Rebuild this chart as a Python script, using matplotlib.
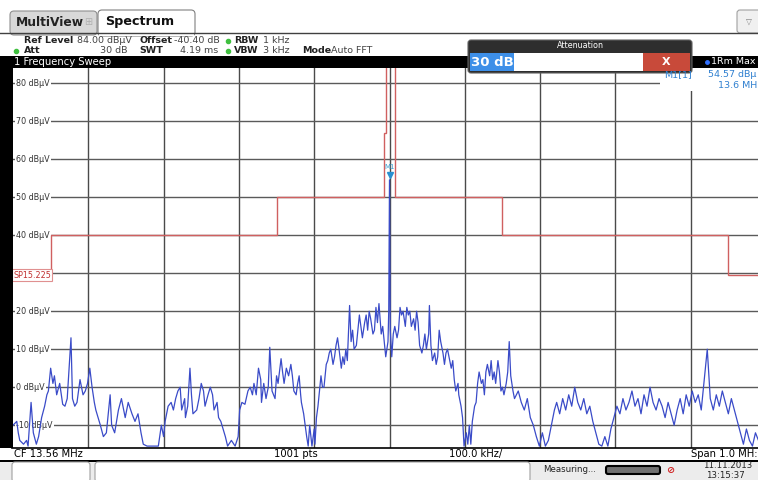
import matplotlib
matplotlib.use('Agg')
import matplotlib.pyplot as plt
from matplotlib.patches import Rectangle, FancyBboxPatch
import numpy as np

# Spektrum-Screenshot: CF 13.56 MHz, Span 1 MHz, Ref 84 dBuV

f_start = 13.06   # MHz
f_stop = 14.06
ref_level = 84.0
y_bottom = -16.0

# trace (MHz, dBuV)
trace_mhz = [
    13.060, 13.065, 13.067, 13.069, 13.074, 13.078, 13.080, 13.084, 13.087, 13.091,
    13.094, 13.098, 13.102, 13.105, 13.107, 13.110, 13.113, 13.115, 13.118, 13.122,
    13.126, 13.129, 13.132, 13.137, 13.139, 13.142, 13.145, 13.149, 13.153, 13.156,
    13.159, 13.162, 13.165, 13.168, 13.170, 13.173, 13.176, 13.180, 13.184, 13.189,
    13.191, 13.195, 13.200, 13.204, 13.209, 13.213, 13.218, 13.222, 13.226, 13.230,
    13.233, 13.238, 13.244, 13.253, 13.257, 13.260, 13.262, 13.266, 13.270, 13.273,
    13.276, 13.279, 13.282, 13.284, 13.288, 13.289, 13.292, 13.295, 13.297, 13.299,
    13.304, 13.307, 13.310, 13.313, 13.315, 13.319, 13.322, 13.325, 13.327, 13.331,
    13.333, 13.336, 13.339, 13.342, 13.345, 13.350, 13.355, 13.359, 13.361, 13.364,
    13.368, 13.372, 13.375, 13.378, 13.380, 13.383, 13.386, 13.389, 13.390, 13.393,
    13.396, 13.399, 13.401, 13.404, 13.406, 13.408, 13.410, 13.412, 13.416, 13.418,
    13.420, 13.423, 13.426, 13.429, 13.431, 13.433, 13.436, 13.438, 13.440, 13.442,
    13.443, 13.446, 13.448, 13.450, 13.452, 13.454, 13.457, 13.460, 13.461, 13.463,
    13.465, 13.467, 13.469, 13.471, 13.473, 13.476, 13.478, 13.480, 13.482, 13.485,
    13.487, 13.489, 13.491, 13.493, 13.496, 13.498, 13.500, 13.502, 13.504, 13.507,
    13.509, 13.511, 13.513, 13.516, 13.518, 13.520, 13.522, 13.524, 13.527, 13.529,
    13.531, 13.533, 13.535, 13.538, 13.540, 13.542, 13.544, 13.546, 13.549, 13.551,
    13.553, 13.555, 13.558, 13.559, 13.560, 13.561, 13.563, 13.565, 13.567, 13.570,
    13.572, 13.574, 13.576, 13.578, 13.581, 13.583, 13.585, 13.587, 13.589, 13.592,
    13.594, 13.596, 13.598, 13.600, 13.603, 13.605, 13.607, 13.609, 13.612, 13.613,
    13.615, 13.617, 13.620, 13.622, 13.624, 13.626, 13.628, 13.631, 13.633, 13.635,
    13.637, 13.639, 13.642, 13.644, 13.646, 13.648, 13.651, 13.652, 13.655, 13.657,
    13.659, 13.662, 13.664, 13.666, 13.668, 13.670, 13.673, 13.675, 13.677, 13.679,
    13.682, 13.684, 13.686, 13.688, 13.690, 13.693, 13.695, 13.697, 13.699, 13.701,
    13.704, 13.706, 13.708, 13.710, 13.712, 13.715, 13.717, 13.719, 13.721, 13.724,
    13.726, 13.731, 13.735, 13.739, 13.743, 13.747, 13.751, 13.755, 13.759, 13.763,
    13.767, 13.771, 13.775, 13.779, 13.782, 13.786, 13.790, 13.794, 13.798, 13.802,
    13.806, 13.810, 13.814, 13.818, 13.822, 13.826, 13.830, 13.834, 13.838, 13.842,
    13.846, 13.850, 13.854, 13.858, 13.862, 13.866, 13.870, 13.874, 13.878, 13.882,
    13.886, 13.890, 13.894, 13.898, 13.902, 13.906, 13.910, 13.914, 13.918, 13.922,
    13.926, 13.930, 13.934, 13.938, 13.942, 13.946, 13.950, 13.954, 13.958, 13.962,
    13.966, 13.970, 13.974, 13.978, 13.982, 13.986, 13.990, 13.994, 13.998, 14.002,
    14.006, 14.010, 14.014, 14.018, 14.022, 14.026, 14.030, 14.034, 14.038, 14.042,
    14.046, 14.050, 14.060,
]
trace_dbuv = [
    -10, -9, -12, -14, -15, -14, -15.5, -4, -12, -15,
    -13, -8, -5, -2, -1, 5, 1, 3, -2, 1,
    -4.5, -5, -3, 13, -3, -5, -4, 2, -2, -1,
    1, 5, 0, -4, -6, -8, -10, -13, -12, -2,
    -10, -12, -6, -3, -8, -4, -7, -9, -7, -12,
    -15, -15.5, -15.5, -15.5, -10, -13, -9, -5, -4, -6,
    -3, -1, 0, -6, -3, -8, -5, 5, -2, -7,
    -6, -3, 1, -1, -5, -2, 0, -2, -6, -4,
    -8, -9, -11, -13, -15.5, -14, -15.5, -13, -6, -4,
    -4.5, -1, 0, -2, 1, -2, 5, 2, -4, 1,
    -3, 0, 10.5, -1, -2, -3, 3, 1, 7.5, 4,
    1, 5, 3, 6, 3, -1, -2, 1, 3, -2,
    -4, -7, -10, -13, -15.5, -10, -15.5, -11, -15, -8,
    -5, -1, 3, 0, 0, 6, 7, 9, 10, 6,
    8, 11, 13, 10, 5, 8, 6, 10, 7, 21.5,
    12, 15, 10, 11, 15, 19, 16, 13, 17, 19,
    15, 20, 18, 14, 15, 21, 17, 22, 14, 16,
    12, 8, 12, 20, 54.57, 15, 8, 14, 16, 13,
    15, 21, 19, 20, 16, 21, 19, 20, 16, 18,
    15, 20, 17, 11, 9, 11, 14, 10, 14, 21.5,
    11, 7, 9, 6, 8, 15, 12, 9, 6, 9,
    10, 8, 5, 7, 2, -1, 1, -2, -5, -8,
    -15.5, -12, -15, -10, -15, -9, -5, -4, 1, 4,
    1, 2, -2, 4, 6, 3, 7, 2, 4, 1,
    7, 4, -1, 0, -2, 1, 4, 12, 3, -1,
    -3, -1, -4, -6, -3, -8, -10, -13, -15.5, -12,
    -15.5, -14, -10, -6, -4, -7, -3, -6, -2, -5,
    0, -4, -6, -3, -7, -5, -9, -12, -15, -15.5,
    -13, -15.5, -11, -8, -5, -7, -3, -6, -4, -1,
    -5, -3, -7, -2, -5, 0, -4, -6, -3, -5,
    -8, -4, -7, -10, -6, -3, -7, -2, -5, -1,
    -4, -2, -6, 2, 10, -3, -6, -2, -5, -1,
    -4, -7, -3, -6, -9, -12, -15, -11, -14, -15.5,
    -12, -14, -12,
]

# Grenzwertlinie SP15.225
limit_edges = [13.06, 13.11, 13.41, 13.553, 13.555, 13.567, 13.71, 14.01, 14.06]
limit_dbuv = [29.5, 40, 50, 67, 95, 50, 40, 29.5]

level_ticks = [80, 70, 60, 50, 40, 30, 20, 10, 0, -10]
level_labels = ['80 dBµV', '70 dBµV', '60 dBµV', '50 dBµV', '40 dBµV',
                '30 dBµV', '20 dBµV', '10 dBµV', '0 dBµV', '-10 dBµV']
freq_ticks = [13.16, 13.26, 13.36, 13.46, 13.56, 13.66, 13.76, 13.86, 13.96]

marker_mhz = 13.560
marker_dbuv = 54.57

W, H = 758, 480
fig = plt.figure(figsize=(W / 100., H / 100.), dpi=100)
fig.patch.set_facecolor('white')

# Diagramm: x 13..766 px, y 68..448 px
ax = fig.add_axes([13. / W, (H - 448.) / H, 753. / W, 380. / H])
ax.set_xlim(f_start, f_stop)
ax.set_ylim(y_bottom, ref_level)
for s in ax.spines.values():
    s.set_visible(False)
ax.set_xticks([])
ax.set_yticks([])

for f in freq_ticks:
    ax.axvline(f, color='#4a4a4a', lw=1.0, zorder=1)
for lv in level_ticks:
    ax.axhline(lv, color='#5a5a5a', lw=1.0, zorder=1)

for lv, lab in zip(level_ticks, level_labels):
    ax.text(0.004, lv, lab, transform=ax.get_yaxis_transform(), fontsize=5.8,
            color='#333333', va='center', ha='left', zorder=2,
            bbox=dict(fc='white', ec='none', pad=1.0))

ax.stairs(limit_dbuv, limit_edges, baseline=None, color='#d06060', lw=1.0, zorder=3)
ax.text(0.0, 29.5, 'SP15.225', transform=ax.get_yaxis_transform(), fontsize=5.8,
        color='#c03030', va='center', ha='left', zorder=5,
        bbox=dict(fc='white', ec='#e09090', pad=0.8, lw=0.8))

ax.plot(trace_mhz, trace_dbuv, color='#3a4bc8', lw=0.9, zorder=4, clip_on=True)

ax.plot([marker_mhz], [marker_dbuv + 1.2], marker='v', ms=4, color='#2a8fd0', zorder=6)
ax.text(marker_mhz, marker_dbuv + 2.6, 'M1', fontsize=5, color='#40a0d0',
        ha='center', va='bottom', zorder=6)

# Rahmen / Kopf / Fuss in Pixelkoordinaten
ov = fig.add_axes([0, 0, 1, 1], zorder=10)
ov.set_xlim(0, W)
ov.set_ylim(H, 0)
ov.axis('off')

# Kopfbereich
ov.add_patch(Rectangle((0, 0), W, 56, fc='white', ec='none'))
ov.plot([0, W], [33, 33], color='#404040', lw=1.0)
ov.add_patch(FancyBboxPatch((10, 11), 87, 24, boxstyle='round,pad=0,rounding_size=4',
                            fc='#d8d8d8', ec='#909090', lw=0.8))
ov.text(16, 22.5, 'MultiView', fontsize=8.8, fontweight='bold', color='#222222', va='center')
ov.text(88, 22, '⊞', fontsize=7, color='#b0b0b0', va='center', ha='center')
ov.add_patch(FancyBboxPatch((98, 10), 97, 26, boxstyle='round,pad=0,rounding_size=4',
                            fc='white', ec='#808080', lw=0.8))
ov.add_patch(Rectangle((98.6, 31), 95.8, 5, fc='white', ec='none'))
ov.text(105, 21.5, 'Spectrum', fontsize=9.2, fontweight='bold', color='#111111', va='center')
ov.add_patch(FancyBboxPatch((737, 10), 30, 23, boxstyle='round,pad=0,rounding_size=3',
                            fc='#f0f0f0', ec='#a0a0a0', lw=0.8))
ov.text(749, 21, '▽', fontsize=5.5, color='#808080', va='center', ha='center')

r1, r2 = 40.5, 50.5
ov.text(24, r1, 'Ref Level', fontsize=6.8, fontweight='bold', color='#222222', va='center')
ov.text(77, r1, '84.00 dBµV', fontsize=6.8, color='#444444', va='center')
ov.text(139, r1, 'Offset', fontsize=6.8, fontweight='bold', color='#222222', va='center')
ov.text(174, r1, '-40.40 dB', fontsize=6.8, color='#444444', va='center')
ov.plot([228], [r1], 'o', ms=3, color='#40c040')
ov.text(234, r1, 'RBW', fontsize=6.8, fontweight='bold', color='#222222', va='center')
ov.text(263, r1, '1 kHz', fontsize=6.8, color='#444444', va='center')
ov.plot([16], [r2], 'o', ms=3, color='#40c040')
ov.text(24, r2, 'Att', fontsize=6.8, fontweight='bold', color='#222222', va='center')
ov.text(127, r2, '30 dB', fontsize=6.8, color='#444444', va='center', ha='right')
ov.text(139, r2, 'SWT', fontsize=6.8, fontweight='bold', color='#222222', va='center')
ov.text(218, r2, '4.19 ms', fontsize=6.8, color='#444444', va='center', ha='right')
ov.plot([228], [r2], 'o', ms=3, color='#40c040')
ov.text(234, r2, 'VBW', fontsize=6.8, fontweight='bold', color='#222222', va='center')
ov.text(263, r2, '3 kHz', fontsize=6.8, color='#444444', va='center')
ov.text(302, r2, 'Mode', fontsize=6.8, fontweight='bold', color='#222222', va='center')
ov.text(331, r2, 'Auto FFT', fontsize=6.8, color='#444444', va='center')

# schwarze Titelleiste + linker Rand
ov.add_patch(Rectangle((0, 56), W, 12, fc='black', ec='none'))
ov.text(14, 62, '1 Frequency Sweep', fontsize=7.2, color='white', va='center')
ov.plot([707], [62], 'o', ms=2.5, color='#3070ff')
ov.text(711, 62, '1Rm Max', fontsize=6.8, color='white', va='center')
ov.add_patch(Rectangle((0, 56), 12.5, 405, fc='black', ec='none'))

# Markerinfo
ov.add_patch(Rectangle((660, 68.5), 98, 22, fc='white', ec='none'))
ov.text(664, 74.5, 'M1[1]', fontsize=6.8, color='#3080d0', va='center')
ov.text(708, 74.5, '54.57 dBµ', fontsize=6.8, color='#3080d0', va='center')
ov.text(718, 85, '13.6 MH', fontsize=6.8, color='#3080d0', va='center')

# Dialog Attenuation
ov.add_patch(FancyBboxPatch((468, 40), 224, 33, boxstyle='round,pad=0,rounding_size=3',
                            fc='#2e2e2e', ec='#606060', lw=0.8))
ov.text(580, 46, 'Attenuation', fontsize=5.8, color='white', va='center', ha='center')
ov.add_patch(Rectangle((470, 52.5), 173, 18.5, fc='white', ec='none'))
ov.add_patch(Rectangle((470, 53), 44, 17.5, fc='#3d8fe8', ec='none'))
ov.text(471, 62, '30 dB', fontsize=9.5, fontweight='bold', color='white', va='center')
ov.add_patch(Rectangle((643, 52.5), 47, 18.5, fc='#c84a3a', ec='none'))
ov.text(666.5, 62, 'X', fontsize=8, fontweight='bold', color='white', va='center', ha='center')

# Fusszeile
ov.add_patch(Rectangle((0, 447.5), W, 13, fc='white', ec='none'))
ov.plot([12, W], [447.8, 447.8], color='black', lw=1.2)
ov.add_patch(Rectangle((0, 459.5), W, 2.5, fc='black', ec='none'))
ov.text(14, 454, 'CF 13.56 MHz', fontsize=7.2, color='black', va='center')
ov.text(296, 454, '1001 pts', fontsize=7.2, color='black', va='center', ha='center')
ov.text(476, 454, '100.0 kHz/', fontsize=7.2, color='black', va='center', ha='center')
ov.text(691, 454, 'Span 1.0 MH:', fontsize=7.2, color='black', va='center')

ov.add_patch(Rectangle((0, 462), W, 18, fc='#ececec', ec='none'))
ov.add_patch(FancyBboxPatch((12, 462), 78, 20, boxstyle='round,pad=0,rounding_size=3',
                            fc='white', ec='#a0a0a0', lw=0.8))
ov.add_patch(FancyBboxPatch((95, 462), 435, 20, boxstyle='round,pad=0,rounding_size=3',
                            fc='white', ec='#a0a0a0', lw=0.8))
ov.text(543, 470, 'Measuring...', fontsize=6.2, color='#222222', va='center')
ov.add_patch(FancyBboxPatch((606, 466), 54, 8, boxstyle='round,pad=0,rounding_size=2',
                            fc='#707070', ec='black', lw=1.5))
ov.text(670, 470, '⊘', fontsize=7, color='#d02020', va='center', ha='center',
        fontweight='bold')
ov.text(728, 465, '11.11.2013', fontsize=6.2, color='#222222', va='center', ha='center')
ov.text(745, 475.5, '13:15:37', fontsize=6.2, color='#222222', va='center', ha='right')

fig.savefig('out.png', dpi=100)
